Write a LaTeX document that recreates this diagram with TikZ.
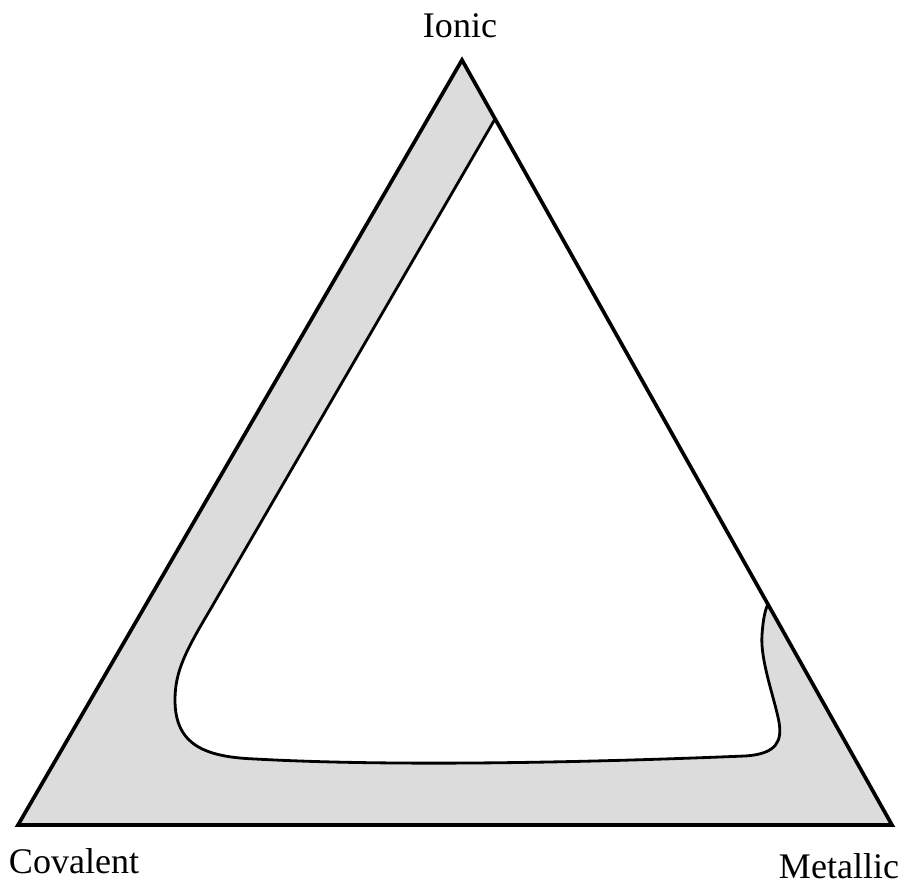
\documentclass[tikz,border=0pt]{standalone}
\usepackage{fontspec}
\setmainfont{Liberation Serif}
\definecolor{bandgray}{RGB}{220,220,220}
\tikzset{
  label text/.style={font=\fontsize{20.5}{24}\selectfont, inner sep=0pt},
  outline/.style={line width=2.1pt, line join=miter},
  region/.style={line width=1.6pt, line join=round}
}
\begin{document}
\begin{tikzpicture}[x=0.02cm, y=-0.02cm]
\useasboundingbox (0,0) rectangle (904,884);
\coordinate (I) at (462,60);
\coordinate (C) at (18,825);
\coordinate (M) at (892,825);
\coordinate (p1) at (495,119);
\coordinate (p2) at (768,604);
% gray band
\fill[bandgray] (I) -- (C) -- (M) -- cycle;
% inner white region
\path[fill=white] (p1) -- (210,610)
  .. controls (185,652) and (175,672) .. (175,700)
  .. controls (175,745) and (205,757) .. (255,759)
  .. controls (400,767) and (600,762) .. (745,756)
  .. controls (778,754) and (782,740) .. (779,722)
  .. controls (775,700) and (760,660) .. (762,635)
  .. controls (763,620) and (765,610) .. (p2) -- cycle;
\draw[region] (p1) -- (210,610)
  .. controls (185,652) and (175,672) .. (175,700)
  .. controls (175,745) and (205,757) .. (255,759)
  .. controls (400,767) and (600,762) .. (745,756)
  .. controls (778,754) and (782,740) .. (779,722)
  .. controls (775,700) and (760,660) .. (762,635)
  .. controls (763,620) and (765,610) .. (p2);
\draw[outline] (I) -- (C) -- (M) -- cycle;
\node[label text] (ionic) at (460,26) {Ionic};
\node[label text] (covalent) at (74,861) {Covalent};
\node[label text] (metallic) at (839,866) {Metallic};
\end{tikzpicture}
\end{document}
